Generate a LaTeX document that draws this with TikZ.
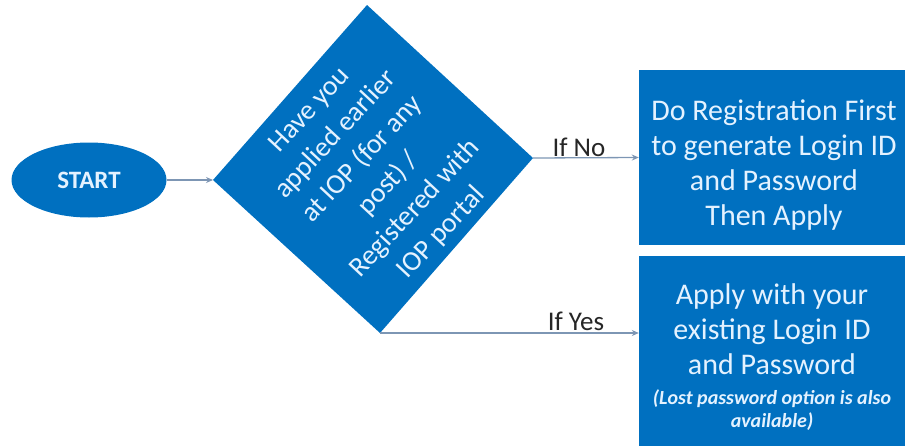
\documentclass[tikz,border=0pt]{standalone}
\usepackage{fontspec}
\setmainfont{Carlito}
\usepackage{xcolor}
\usetikzlibrary{shapes.geometric,arrows.meta,positioning}
\definecolor{flowblue}{RGB}{0,112,192}
\definecolor{flowtext}{RGB}{228,242,255}
\definecolor{linkgrey}{RGB}{125,150,180}
\newcommand{\notefont}{\fontsize{20}{23}\selectfont\bfseries\itshape}

\begin{document}
\begin{tikzpicture}[x=1pt, y=-1pt, every node/.style={inner sep=0pt, align=center},
  startnode/.style={ellipse, fill=flowblue, text=flowtext, minimum width=155pt, minimum height=75pt, font=\fontsize{25}{30}\selectfont\bfseries},
  box/.style={rectangle, fill=flowblue, minimum width=266pt},
  boxtext/.style={text=flowtext, font=\fontsize{30}{35}\selectfont},
  link/.style={draw=linkgrey, line width=1.3pt, -{Stealth[length=7pt,width=6pt]}},
  iflabel/.style={font=\fontsize{27}{30}\selectfont, text=black!85}]
  \useasboundingbox (0,0) rectangle (905,447);
  \node[startnode] (start) at (89,180) {START};
  \coordinate (dtop) at (367,5);
  \coordinate (dleft) at (213,180);
  \coordinate (dright) at (533,158);
  \coordinate (dbottom) at (380,333);
  \fill[flowblue] (dtop) -- (dright) -- (dbottom) -- (dleft) -- cycle;
  \node[rotate=47, text=flowtext, font=\fontsize{28}{36}\selectfont] (question) at (376,172)
    {Have you\\applied earlier\\at IOP (for any\\post) /\\Registered with\\IOP portal};
  \node[box, minimum height=175pt] (regbox) at (772,157.5) {};
  \node[boxtext] (regtext) at (774,165)
    {Do Registration First\\to generate Login ID\\and Password\\Then Apply};
  \node[box, minimum height=190pt] (applybox) at (772,351) {};
  \node[boxtext] (applytext) at (772,357)
    {Apply with your\\existing Login ID\\and Password\\[-5pt]{\notefont (Lost password option is also}\\[-12pt]{\notefont available)}};
  \draw[link] (start) -- (dleft);
  \draw[link] (dright) -- (regbox.west);
  \draw[link] (dbottom) -- (dbottom -| applybox.west);
  \node[iflabel] (ifno) at (579,147) {If No};
  \node[iflabel] (ifyes) at (576,321) {If Yes};
\end{tikzpicture}
\end{document}
